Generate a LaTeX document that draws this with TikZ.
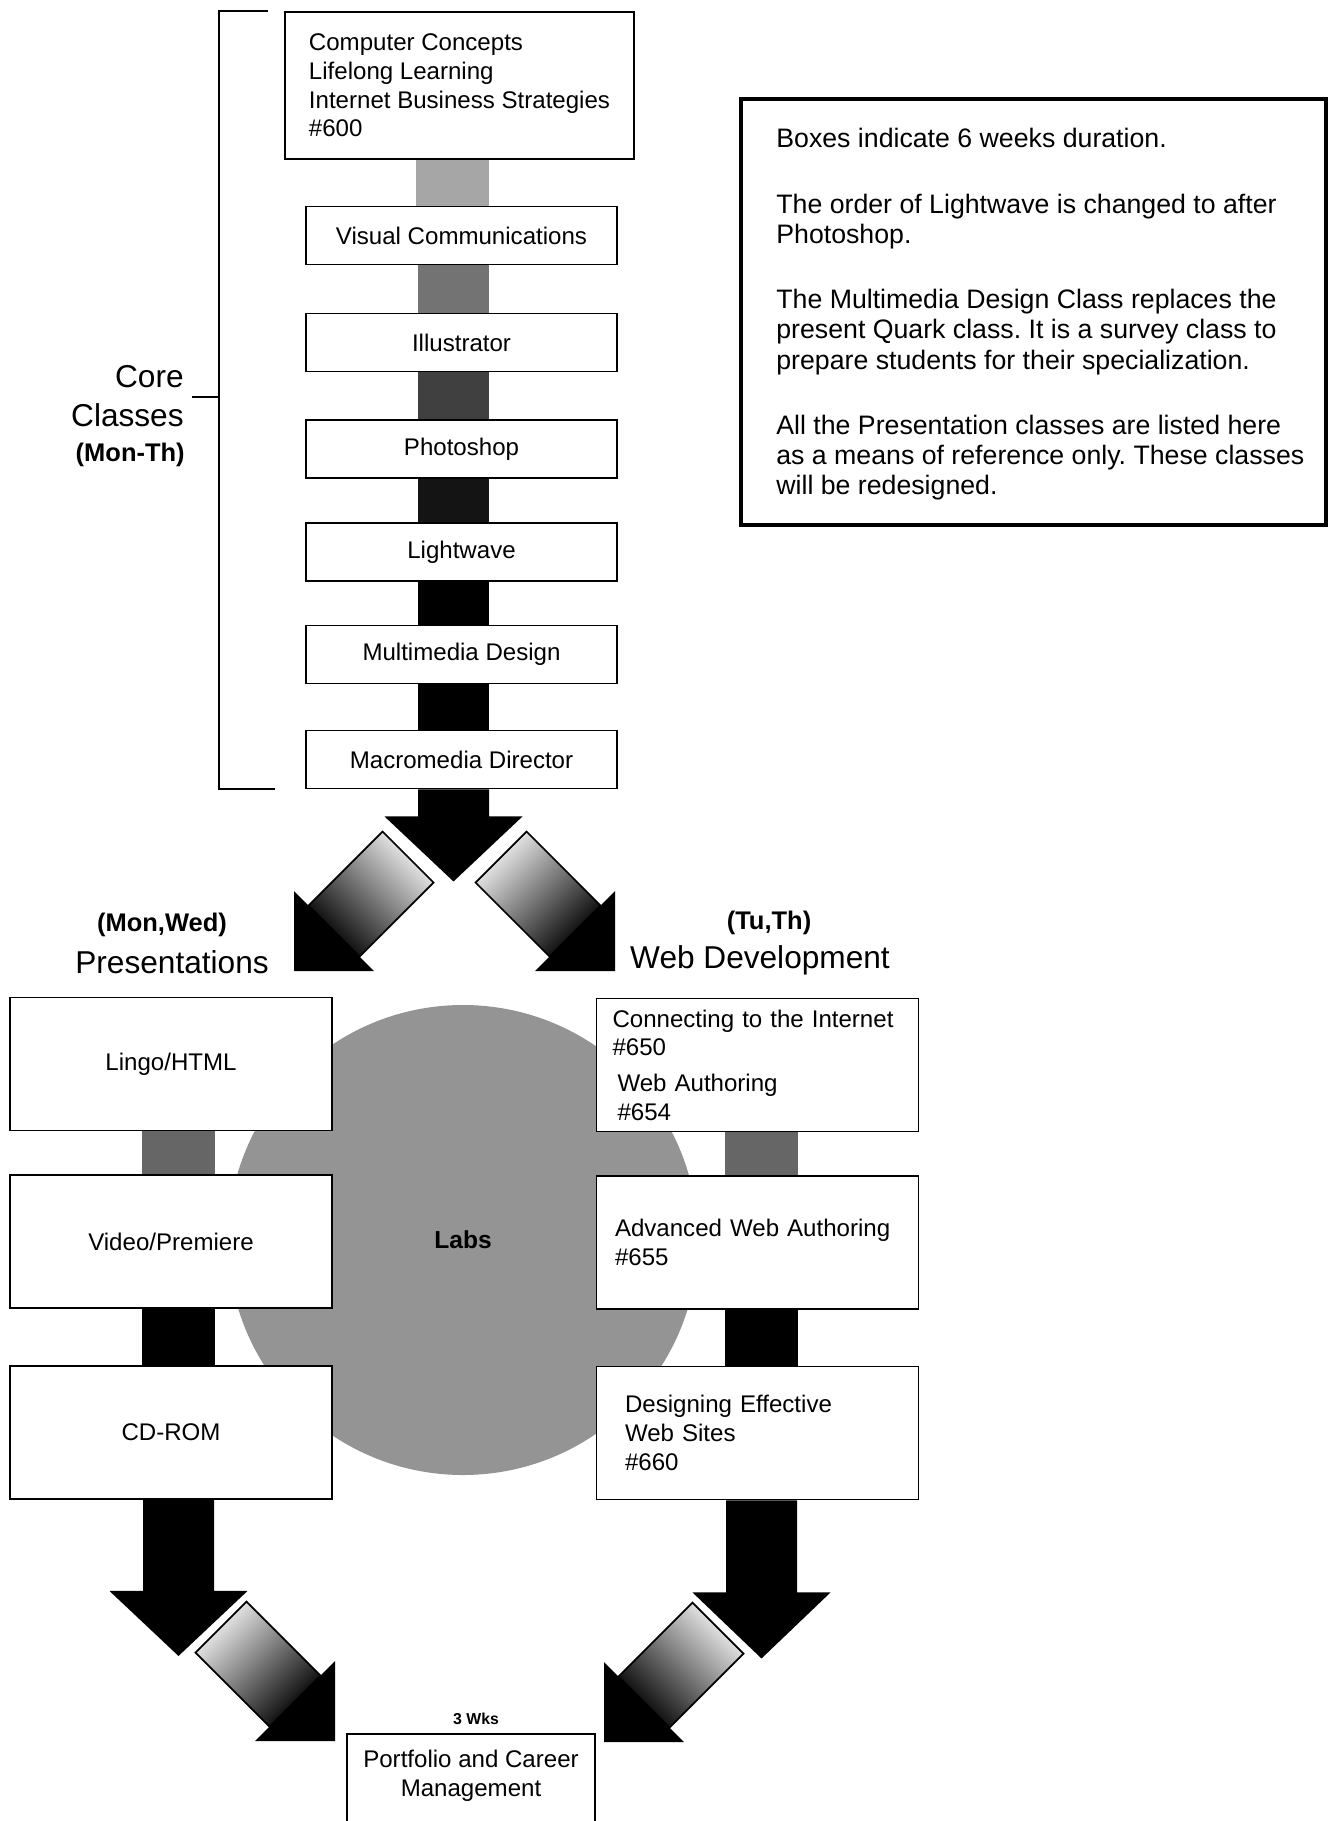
\documentclass[tikz,border=0pt]{standalone}
\usepackage{fontspec}
\setmainfont{Liberation Sans}
\usetikzlibrary{calc}
\newlength\px
\setlength\px{0.02cm}
\newcommand\boxfont{\fontsize{13.7}{16.3}\selectfont}
\newcommand\notefont{\fontsize{15.2}{17.2}\selectfont}
\frenchspacing
\begin{document}
\begin{tikzpicture}[x=0.02cm, y=-0.02cm, font=\boxfont,
	corebox/.style={draw, fill=white, line width=1.1pt, minimum width=311\px, minimum height=58\px, inner sep=0pt},
	sidebox/.style={draw, fill=white, line width=1.1pt, minimum width=322\px, minimum height=133\px, inner sep=0pt},
	webbox/.style={sidebox, align=left, text width=#1},
	daylbl/.style={font=\bfseries\fontsize{14.5}{17}\selectfont, inner sep=0pt},
	biglbl/.style={font=\fontsize{18}{21}\selectfont, inner sep=0pt},
	shaft/.style={draw, line width=1pt, left color=black, middle color=black!55, right color=black!5}]
\useasboundingbox (0,0) rectangle (1331,1821);
%labs
\node[circle, fill=black!42, minimum size=470\px, inner sep=0pt, font=\bfseries\fontsize{14}{16}\selectfont] (labs) at (463,1240) {Labs};
%core classes
\node[corebox, minimum width=349\px, minimum height=147\px, align=left] (top) at (459.5,85.5)
	{Computer Concepts\\Lifelong Learning\\Internet Business Strategies\\\#600};
\foreach \name/\yc/\txt in {
	vis/235.5/Visual Communications,
	ill/342.5/Illustrator,
	pho/449/Photoshop,
	lig/552/Lightwave,
	mul/654.5/Multimedia Design,
	mac/759.5/Macromedia Director}
\node[corebox] (\name) at (461.5,\yc) {\txt};
\foreach \a/\b/\c in {top/vis/black!35, vis/ill/black!55, ill/pho/black!75, pho/lig/black!92, lig/mul/black, mul/mac/black}
\fill[fill=\c] ($(\a.south)+(-43.5,0)$) rectangle ($(\b.north)+(27.5,0)$);
%bracket
\draw[line width=1.1pt] (268,11) -| (219,789) -- (275,789);
\draw[line width=0.8pt] (219,397) -- (192,397);
\node[biglbl, anchor=east] (core) at (184,377) {Core};
\node[biglbl, anchor=east] (classes) at (184,415) {Classes};
\node[daylbl, anchor=east] (month) at (185,455) {(Mon-Th)};
%notes
\draw[line width=2.3pt] (741,99) rectangle (1326,525);
\node[anchor=north west, align=left, font=\notefont, inner sep=0pt] (notes) at (776,128)
	{Boxes indicate 6 weeks duration.\\[20pt]
	The order of Lightwave is changed to after\\Photoshop.\\[20pt]
	The Multimedia Design Class replaces the\\present Quark class. It is a survey class to\\prepare students for their specialization.\\[20pt]
	All the Presentation classes are listed here\\as a means of reference only. These classes\\will be redesigned.};
%presentations
\node[daylbl] (monwed) at (162,925) {(Mon,Wed)};
\node[biglbl] (pres) at (172,962) {Presentations};
\node[sidebox] (lingo) at (171,1064) {Lingo/HTML};
\node[sidebox] (video) at (171,1241.5) {Video/Premiere};
\node[sidebox] (cdrom) at (171,1432.5) {CD-ROM};
\fill[fill=black!60] ($(lingo.south)+(-29,0)$) rectangle ($(video.north)+(44,0)$);
\fill ($(video.south)+(-29,0)$) rectangle ($(cdrom.north)+(44,0)$);
%web development
\node[daylbl] (tuth) at (769,923) {(Tu,Th)};
\node[biglbl] (webdev) at (760,960) {Web Development};
\node[webbox=290\px] (conn) at (757.5,1065)
	{Connecting to the Internet\\\#650\\[4pt]\hspace*{5\px}Web Authoring\\\hspace*{5\px}\#654};
\node[webbox=285\px] (adv) at (757.5,1242.5) {Advanced Web Authoring\\\#655};
\node[webbox=265\px] (des) at (757.5,1433) {Designing Effective\\Web Sites\\\#660};
\fill[fill=black!60] ($(conn.south)+(-32.5,0)$) rectangle ($(adv.north)+(40.5,0)$);
\fill ($(adv.south)+(-32.5,0)$) rectangle ($(des.north)+(40.5,0)$);
%down arrows
\foreach \src/\dx/\base/\tip in {mac/-8/27/92, cdrom/7.5/91/156, des/4/92/158}
\fill ($(\src.south)+(\dx-35.5,0)$) -- ++(0,\base) -- ++(-33.5,0) -- ($(\src.south)+(\dx,\tip)$)
	-- ($(\src.south)+(\dx+69,\base)$) -- ++(-33.5,0) -- ($(\src.south)+(\dx+35.5,0)$) -- cycle;
%side arrows
\foreach \tx/\ty/\sx/\ang in {294/971/-1/135, 615/971/1/225, 335/1741/1/225, 604/1742/-1/135} {
	\shade[shaft, shading angle=\ang] ({\tx-65.5*(\sx)},{\ty-14.5}) -- ({\tx-139.5*(\sx)},{\ty-88.5})
		-- ({\tx-88.5*(\sx)},{\ty-139.5}) -- ({\tx-14.5*(\sx)},{\ty-65.5}) -- cycle;
	\fill (\tx,\ty) -- ({\tx-80*(\sx)},\ty) -- (\tx,{\ty-80}) -- cycle;
}
%portfolio
\node[font=\bfseries\fontsize{9}{11}\selectfont, inner sep=0pt] (wks) at (476,1719) {3 Wks};
\node[draw, fill=white, line width=1.1pt, minimum width=248\px, minimum height=116\px, inner sep=0pt, align=center] (port) at (471,1792)
	{Portfolio and Career\\Management\\\strut};
\end{tikzpicture}
\end{document}
